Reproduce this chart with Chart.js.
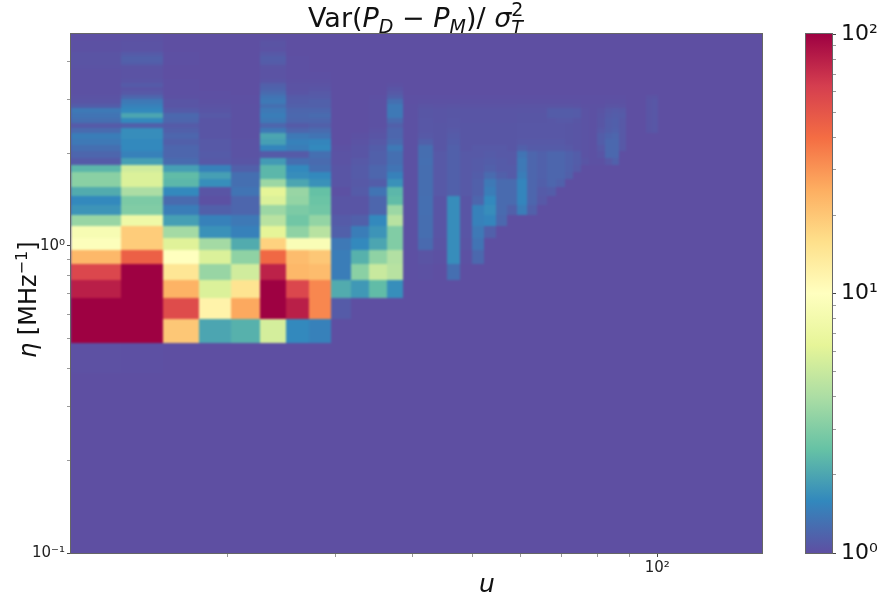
<!DOCTYPE html>
<html>
<head>
<meta charset="utf-8">
<style>
  html, body { margin: 0; padding: 0; background: #fff; }
  canvas { display: block; }
</style>
<script src="https://cdn.jsdelivr.net/npm/chart.js@4"></script>
</head>
<body>
<canvas id="chart" width="881" height="604"></canvas>
<script>
// cell edges
const uEdges = [11.15,13.44,15.73,18.02,20.31,22.6,24.89,27.18,29.47,31.76,34.05,36.34,38.63,40.92,43.21,45.5,47.79,50.08,52.37,54.66,56.95,59.24,61.53,63.82,66.11,68.4,70.69,72.98,75.27,77.56,79.85,82.14,84.43,86.72,89.01,91.3,93.59,95.88,98.17,100.46,102.75];
const etaEdges = [0.386,0.483,0.58,0.677,0.774,0.871,0.968,1.065,1.162,1.259,1.356,1.453,1.55,1.647,1.744,1.841,1.938,2.035,2.132,2.229,2.326,2.423,2.52,2.617,2.714,2.811,2.908,3.005,3.102,3.199,3.296,3.393,3.49,3.587,3.684,3.781,3.878,3.975,4.072,4.169,4.266,4.363,4.46,4.557,4.654,4.751,4.848,4.945];

// one row per eta bin, bottom to top, one value per u bin. short rows: the rest stays at the floor
const varValues = [
  [1.015,1.01,1],
  [100,100,20,2,2.2,5.5,1.6,1.5],
  [100,100,55,12,26,100,80,33,1.1],
  [80,100,24,5.8,15,100,58,33,2.1,1.8,2.4,1.66],
  [58,100,14.5,3.5,5.3,78,23,22,1.45,3.2,5,4.4,1.01,1.02,1,1.3],
  [23,45,10,5.8,3.3,42,22,20,1.45,2.2,3.3,4.2,1.01,1.04,1.02,1.65,1.02,1.22],
  [9.5,19,6,3.8,2.1,18,9,9,1.4,1.6,2,3,1.02,1.24,1.04,1.65,1.04,1.35],
  [8.7,19,3.8,1.7,1.5,6.3,3.3,4.4,1.15,1.45,1.75,3,1.02,1.28,1.05,1.65,1.05,1.4,1.15],
  [3.5,7.5,1.9,1.5,1.4,4.4,2.7,3.4,1.1,1.15,1.6,4.4,1.02,1.28,1.05,1.65,1.05,1.5,1.55,1.22],
  [1.75,3,1.45,1.15,1.2,3.6,2.9,2.7,1.05,1.05,1.2,3.6,1.02,1.3,1.05,1.65,1.05,1.5,1.65,1.25,1.15,1.45,1.15],
  [1.6,2.9,1.25,1.02,1.2,5.8,3.4,2.6,1.05,1.05,1.2,2.4,1.02,1.3,1.05,1.65,1.05,1.2,1.6,1.25,1.25,1.55,1.2,1.08],
  [2.1,4,1.6,1.05,1.35,6.3,3.5,2.5,1.02,1.1,1.35,2.3,1.02,1.28,1.08,1.15,1.08,1.15,1.45,1.25,1.25,1.55,1.2,1.1,1.12],
  [3.2,5.8,2.3,1.66,1.3,3.6,2,1.7,1.05,1.08,1.12,1.7,1.02,1.28,1.08,1.15,1.08,1.15,1.4,1.25,1.25,1.55,1.2,1.14,1.2,1.16],
  [3.2,5.8,2.4,1.9,1.3,2.3,1.65,1.6,1.05,1.1,1.2,1.5,1.02,1.28,1.08,1.15,1.08,1.12,1.25,1.15,1.1,1.45,1.2,1.16,1.2,1.2,1.15],
  [2.3,5.3,1.9,1.5,1.15,2.3,1.6,1.3,1.05,1.1,1.2,1.35,1.02,1.28,1.08,1.15,1.08,1.1,1.15,1.1,1.1,1.4,1.2,1.16,1.2,1.2,1.16,1.1],
  [1.1,1.9,1.25,1.08,1.05,1.85,1.3,1.25,1.03,1.08,1.15,1.3,1.02,1.3,1.08,1.15,1.08,1.1,1.12,1.1,1.08,1.4,1.2,1.16,1.2,1.2,1.16,1.12,1.05,1.02,1.02,1.08,1.16],
  [1.2,1.5,1.2,1.1,1.03,1.1,1.1,1.3,1.03,1.05,1.15,1.3,1.02,1.28,1.08,1.15,1.08,1.08,1.1,1.08,1.08,1.35,1.2,1.16,1.2,1.2,1.16,1.12,1.03,1.02,1.05,1.22,1.22],
  [1.3,1.6,1.2,1.08,1.03,1.55,1.45,1.6,1.02,1.05,1.12,1.4,1.02,1.28,1.06,1.15,1.06,1.08,1.08,1.08,1.06,1.15,1.1,1.1,1.1,1.1,1.08,1.05,1.03,1.02,1.08,1.22,1.22,1.08],
  [1.4,1.6,1.15,1.08,1.03,1.9,1.5,1.55,1,1.03,1.08,1.25,1.02,1.15,1.06,1.12,1.06,1.06,1.06,1.06,1.06,1.08,1.08,1.08,1.08,1.08,1.06,1.05,1.03,1.02,1.12,1.22,1.22,1.08],
  [1.45,1.65,1.2,1.05,1.02,2,1.4,1.35,1,1.02,1.05,1.2,1.02,1.08,1.06,1.1,1.06,1.06,1.06,1.06,1.06,1.07,1.07,1.07,1.07,1.07,1.06,1.05,1.03,1.02,1.12,1.18,1.2,1.08],
  [1.25,1.65,1.15,1.05,1.02,1.4,1.2,1.25,1,1,1.03,1.2,1.02,1.07,1.06,1.08,1.06,1.06,1.06,1.06,1.06,1.07,1.07,1.07,1.07,1.07,1.06,1.05,1.03,1.02,1.08,1.13,1.16,1.08,1,1,1,1.05,1.07],
  [1.1,1.15,1.1,1.05,1.02,1.2,1.1,1.15,1,1,1.02,1.15,1.02,1.07,1.06,1.07,1.06,1.06,1.06,1.06,1.06,1.07,1.07,1.07,1.07,1.07,1.06,1.05,1.03,1.02,1.06,1.12,1.14,1.08,1,1,1,1.05,1.07],
  [1.3,1.6,1.2,1.05,1.02,1.4,1.2,1.2,1,1,1.02,1.25,1.02,1.07,1.05,1.07,1.05,1.05,1.05,1.05,1.05,1.06,1.06,1.06,1.07,1.08,1.08,1.06,1.03,1.02,1.06,1.12,1.14,1.08,1,1,1,1.05,1.07],
  [1.35,2,1.22,1.08,1.02,1.45,1.22,1.25,1,1,1.02,1.4,1.02,1.06,1.05,1.06,1.05,1.05,1.05,1.05,1.05,1.06,1.06,1.06,1.11,1.11,1.11,1.1,1.03,1.02,1.05,1.1,1.12,1.1,1,1,1,1.05,1.07],
  [1.4,1.6,1.1,1.05,1.02,1.4,1.2,1.2,1,1,1.02,1.4,1.02,1.06,1.05,1.06,1.05,1.05,1.05,1.05,1.05,1.05,1.05,1.05,1.11,1.11,1.11,1.1,1.03,1.02,1.04,1.08,1.1,1.08,1,1,1,1.05,1.07],
  [1.12,1.5,1.05,1.03,1.02,1.3,1.15,1.15,1,1,1.02,1.4,1.02,1.04,1.03,1.04,1.03,1.03,1.03,1.03,1.03,1.04,1.04,1.04,1.04,1.04,1.04,1.03,1.02,1.02,1.02,1.04,1.04,1.03,1,1,1,1.05,1.07],
  [1.05,1.4,1.05,1.02,1.01,1.4,1.12,1.15,1,1,1.02,1.3,1.01,1.02,1.02,1.02,1.02,1.02,1.02,1.02,1.02,1.02,1.02,1.02,1.02,1.02,1.02,1.02,1.01,1.01,1.01,1.02,1.02,1.02,1,1,1,1.05,1.07],
  [1.03,1.2,1.02,1.01,1.01,1.35,1.1,1.1,1,1,1.01,1.15,1.01,1.01,1.01,1.01,1.01,1.01,1.01,1.01,1.01,1.01,1.01,1.01,1.01,1.01,1.01,1.01,1.01,1.01,1.01,1.01,1.01,1.01,1,1,1,1.03,1.04],
  [1.02,1.08,1.01,1.01,1,1.25,1.05,1.08,1,1,1,1.08],
  [1.02,1.05,1.01,1,1,1.18,1.03,1.05,1,1,1,1.05],
  [1.02,1.1,1.01,1,1,1.15,1.03,1.03,1,1,1,1.02],
  [1.02,1.05,1.01,1,1,1.05,1.02,1.02],
  [1.02,1.03,1,1,1,1.03,1.01,1.01],
  [1.02,1.03,1,1,1,1.03,1.01,1.01],
  [1.02,1.03,1,1,1,1.03,1.01],
  [1.03,1.04,1,1,1,1.04,1.01],
  [1.04,1.12,1.01,1,1,1.1,1.01],
  [1.04,1.15,1.01,1,1,1.12,1.01],
  [1.04,1.15,1.01,1,1,1.12,1.01],
  [1.04,1.1,1.01,1,1,1.08,1],
  [1.02,1.03,1,1,1,1.03],
  [1.02,1.03,1,1,1,1.03],
  [1.02,1.03,1,1,1,1.04],
  [1.02,1.03,1,1,1,1.04],
  [1.01,1.02,1,1,1,1.02],
  [1.01,1.02],
  [1.01,1.01]
];

const tickLabels = { 0.1: '10\u207B\u00B9', 1: '10\u2070', 10: '10\u00B9', 100: '10\u00B2' };

// Spectral reversed
const spectral = ['#5e4fa2','#3288bd','#66c2a5','#abdda4','#e6f598','#ffffbf','#fee08b','#fdae61','#f46d43','#d53e4f','#9e0142'];
const spectralRgb = spectral.map(c => [1, 3, 5].map(i => parseInt(c.substr(i, 2), 16)));

function cmap(t) {
  t = Math.min(1, Math.max(0, t)) * 10;
  const i = Math.min(9, Math.floor(t));
  const f = t - i;
  const a = spectralRgb[i], b = spectralRgb[i + 1];
  return 'rgb(' + a.map((v, n) => Math.round(v + (b[n] - v) * f)).join(',') + ')';
}

// cell table for the scatter dataset, built from the arrays above
const cells = [];
varValues.forEach((row, r) => {
  row.forEach((v, c) => {
    cells.push({ x: uEdges[c], x2: uEdges[c + 1], y: etaEdges[r], y2: etaEdges[r + 1], v: v });
  });
});

function tickLabel(value) {
  return tickLabels[value] || '';
}

function tickShade(ctx) {
  const v = ctx.tick ? ctx.tick.value : 1;
  if (tickLabels[v]) return '#444';
  // the axis limits are not round numbers, no mark there
  const sig = v / Math.pow(10, Math.floor(Math.log10(v)));
  return Math.abs(sig - Math.round(sig)) > 1e-6 ? 'transparent' : '#999';
}

// writes text pieces one after another with their own font and shift
function drawRuns(ctx, runs, x, y) {
  ctx.textAlign = 'left';
  ctx.textBaseline = 'alphabetic';
  ctx.fillStyle = '#111';
  runs.forEach(run => {
    ctx.font = (run.italic ? 'italic ' : '') + run.size + 'px "DejaVu Sans"';
    ctx.fillText(run.text, x, y + (run.shift || 0));
    if (!run.stack) x += ctx.measureText(run.text).width;
  });
  return x;
}

const meshPlugin = {
  id: 'mesh',
  beforeDraw(chart) {
    // title goes first, the plot covers the foot of its subscript
    const ctx = chart.ctx;
    ctx.save();
    drawRuns(ctx, [
      { text: 'Var(', size: 27 },
      { text: 'P', size: 27, italic: true },
      { text: 'D', size: 19, italic: true, shift: 6 },
      { text: ' \u2212 ', size: 27 },
      { text: 'P', size: 27, italic: true },
      { text: 'M', size: 19, italic: true, shift: 6 },
      { text: ')/ ', size: 27 },
      { text: '\u03C3', size: 27, italic: true },
      { text: '2', size: 19, shift: -11, stack: true },
      { text: 'T', size: 19, italic: true, shift: 7 }
    ], 308, 27);
    ctx.restore();
  },
  beforeDatasetsDraw(chart) {
    const ctx = chart.ctx;
    const { left, top, width, height } = chart.chartArea;
    const xs = chart.scales.x, ys = chart.scales.y, cb = chart.scales.cb;

    // cells go on a spare canvas first, so the softening does not open seams between them
    const spare = document.createElement('canvas');
    spare.width = chart.width;
    spare.height = chart.height;
    const sctx = spare.getContext('2d');
    sctx.fillStyle = spectral[0];
    sctx.fillRect(0, 0, spare.width, spare.height);
    chart.data.datasets[0].data.forEach(cell => {
      const x0 = Math.round(xs.getPixelForValue(cell.x));
      const x1 = Math.round(xs.getPixelForValue(cell.x2));
      const y0 = Math.round(ys.getPixelForValue(cell.y));
      const y1 = Math.round(ys.getPixelForValue(cell.y2));
      sctx.fillStyle = cmap(cb.getDecimalForPixel(cb.getPixelForValue(cell.v)));
      sctx.fillRect(x0, y1, x1 - x0, y0 - y1);
    });

    ctx.save();
    ctx.beginPath();
    ctx.rect(left, top, width, height);
    ctx.clip();
    ctx.filter = 'blur(0.8px)';
    ctx.drawImage(spare, 0, 0);
    ctx.restore();

    ctx.save();
    ctx.strokeStyle = '#666';
    ctx.lineWidth = 1;
    ctx.strokeRect(left - 0.5, top - 0.5, width + 1, height + 1);

    // colorbar
    const barRight = cb.left, barLeft = barRight - 26;
    const grad = ctx.createLinearGradient(0, cb.bottom, 0, cb.top);
    spectral.forEach((c, i) => grad.addColorStop(i / 10, c));
    ctx.fillStyle = grad;
    ctx.fillRect(barLeft, cb.top, 26, cb.bottom - cb.top);
    ctx.strokeRect(barLeft - 0.5, cb.top - 0.5, 27, cb.bottom - cb.top + 1);
    ctx.restore();
  },
  afterDraw(chart) {
    const ctx = chart.ctx;
    ctx.save();
    // eta label, rotated by hand because only the eta is italic
    ctx.translate(36, 358);
    ctx.rotate(-Math.PI / 2);
    drawRuns(ctx, [
      { text: '\u03B7', size: 24, italic: true },
      { text: ' [MHz', size: 24 },
      { text: '\u22121', size: 16, shift: -9 },
      { text: ']', size: 24 }
    ], 0, 0);
    ctx.restore();
    ctx.save();
    drawRuns(ctx, [{ text: 'u', size: 25, italic: true }], 479, 592);
    ctx.restore();
  }
};

new Chart(document.getElementById('chart'), {
  type: 'scatter',
  data: {
    datasets: [{
      data: cells,
      pointRadius: 0,
      pointHoverRadius: 0
    }]
  },
  plugins: [meshPlugin],
  options: {
    responsive: false,
    animation: false,
    events: [],
    layout: { padding: { top: 34, left: 0, right: 0, bottom: 0 } },
    plugins: {
      legend: { display: false },
      tooltip: { enabled: false }
    },
    scales: {
      x: {
        type: 'logarithmic',
        min: 11.15,
        max: 148,
        afterFit: s => { s.height = 51; },
        border: { display: false },
        grid: { drawOnChartArea: false, tickLength: 4, tickColor: tickShade },
        ticks: {
          autoSkip: false,
          maxRotation: 0,
          padding: 2,
          color: '#222',
          font: { family: '"DejaVu Sans"', size: 15 },
          callback: tickLabel
        }
      },
      y: {
        type: 'logarithmic',
        position: 'left',
        min: 0.1,
        max: 4.9,
        afterFit: s => { s.width = 71; },
        border: { display: false },
        grid: { drawOnChartArea: false, tickLength: 4, tickColor: tickShade },
        ticks: {
          autoSkip: false,
          padding: 2,
          color: '#222',
          font: { family: '"DejaVu Sans"', size: 15 },
          callback: tickLabel
        }
      },
      // empty axis, only keeps the colorbar away from the plot
      gap: {
        type: 'linear',
        position: 'right',
        weight: 0,
        afterFit: s => { s.width = 70; },
        border: { display: false },
        grid: { display: false },
        ticks: { display: false }
      },
      cb: {
        type: 'logarithmic',
        position: 'right',
        weight: 1,
        min: 1,
        max: 100,
        afterFit: s => { s.width = 49; },
        border: { display: false },
        grid: { drawOnChartArea: false, tickLength: 4, tickColor: tickShade },
        ticks: {
          autoSkip: false,
          padding: 5,
          color: '#111',
          font: { family: '"DejaVu Sans"', size: 22 },
          callback: tickLabel
        }
      }
    }
  }
});
</script>
</body>
</html>
